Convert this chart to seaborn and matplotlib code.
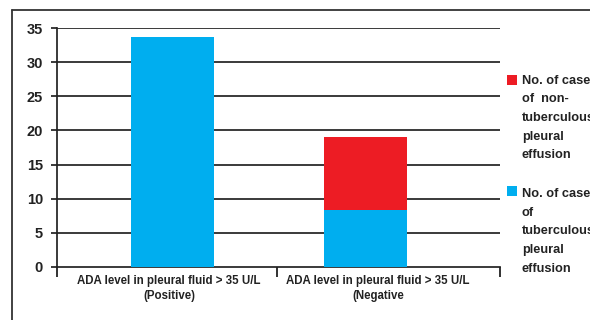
import matplotlib
matplotlib.use("Agg")
import matplotlib.pyplot as plt
from matplotlib.patches import Rectangle
from matplotlib.lines import Line2D
import seaborn as sns
import pandas as pd

# Data
categories = ["Positive", "Negative"]
tick_labels = ["ADA level in pleural fluid > 35 U/L\n(Positive)",
               "ADA level in pleural fluid > 35 U/L\n(Negative"]
tuberculous = [33.7, 8.4]
non_tuberculous = [0.0, 10.6]
legend_labels = ["No. of cases\nof  non-\ntuberculous\npleural\neffusion",
                 "No. of cases\nof\ntuberculous\npleural\neffusion"]

blue = "#00AEEF"
red = "#ED1C24"
dark = "#222222"

sns.set_style("white")
plt.rcParams["font.family"] = ["Liberation Sans", "DejaVu Sans"]
plt.rcParams["font.weight"] = "bold"

df = pd.DataFrame({
    "category": categories,
    "tb": tuberculous,
    "total": [t + n for t, n in zip(tuberculous, non_tuberculous)],
})

fig = plt.figure(figsize=(5.9, 3.2), dpi=100)
ax = fig.add_axes([57 / 590, 1 - 267 / 320, (500 - 57) / 590, (267 - 28) / 320])

# stacked bars: total in red, tuberculous share in blue on top
sns.barplot(data=df, x="category", y="total", color=red, width=0.43,
            saturation=1, linewidth=0, ax=ax, zorder=3)
sns.barplot(data=df, x="category", y="tb", color=blue, width=0.43,
            saturation=1, linewidth=0, ax=ax, zorder=4)

ax.set_xlim(-0.598, 1.695)
ax.set_ylim(0, 35)
ax.set_yticks(range(0, 36, 5))
ax.set_yticklabels([str(v) for v in range(0, 36, 5)], fontsize=10.5,
                   fontweight="bold", color="#222222")
ax.set_xlabel("")
ax.set_ylabel("")

# horizontal grid
for v in range(5, 36, 5):
    ax.axhline(v, color=dark, lw=1.25, zorder=1)

for s in ["top", "right"]:
    ax.spines[s].set_visible(False)
for s in ["left", "bottom"]:
    ax.spines[s].set_color(dark)
    ax.spines[s].set_linewidth(1.25)

ax.tick_params(axis="y", direction="out", length=4, width=1.25, color=dark,
               pad=6, left=True)
# category labels centred between separators
ax.set_xticks([-0.018, 1.064])
ax.set_xticklabels(tick_labels, fontsize=8.3, fontweight="bold",
                   color="#222222", linespacing=1.3)
ax.tick_params(axis="x", length=0, pad=6)
ax.set_xticks([-0.598, 0.54, 1.695], minor=True)
ax.tick_params(axis="x", which="minor", direction="out", length=7.5,
               width=1.3, color=dark, bottom=True)

# legend
entries = [(red, 75, 79.5, legend_labels[0]), (blue, 186, 193, legend_labels[1])]
for color, ytop, ytxt, text in entries:
    fig.patches.append(Rectangle((507 / 590, 1 - (ytop + 10) / 320), 10 / 590,
                                 10 / 320, transform=fig.transFigure,
                                 facecolor=color, edgecolor="none"))
    fig.text(522 / 590, 1 - (ytxt - 5) / 320, text, fontsize=9.2,
             fontweight="bold", color="#222222", va="top", ha="left",
             linespacing=1.75)

# outer frame
fig.lines.append(Line2D([12 / 590, 12 / 590], [-0.1, 1 - 10 / 320],
                        transform=fig.transFigure, color="#333333", lw=1.3))
fig.lines.append(Line2D([12 / 590, 1.1], [1 - 10 / 320, 1 - 10 / 320],
                        transform=fig.transFigure, color="#333333", lw=1.3))

fig.savefig("out.png", dpi=100)
